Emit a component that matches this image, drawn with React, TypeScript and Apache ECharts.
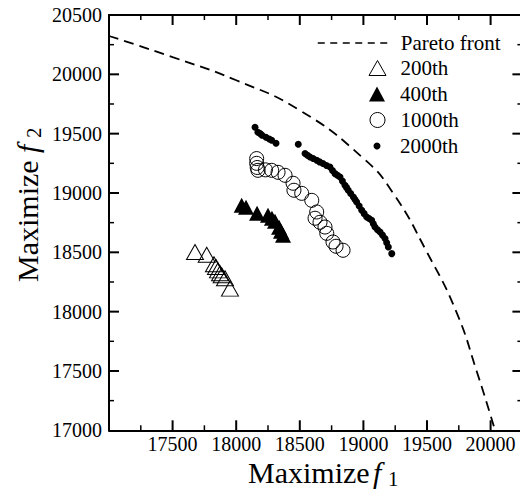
import React, { useEffect, useRef } from "react";
import * as echarts from "echarts";

// ---- data ----
const paretoFront: [number, number][] = [
  [17000, 20323], [17500, 20145], [18000, 19950], [18500, 19697], [19000, 19292],
  [19233, 19000], [19500, 18500], [19730, 18000], [19890, 17500], [20035, 17000],
];

const gen200: [number, number][] = [
  [17676, 18502], [17768, 18479], [17825, 18399], [17841, 18376], [17857, 18348],
  [17873, 18323], [17886, 18306], [17912, 18281], [17951, 18194],
];

const gen400: [number, number][] = [
  [18043, 18896], [18077, 18879], [18164, 18829], [18250, 18812], [18281, 18787],
  [18305, 18761], [18337, 18711], [18352, 18677], [18368, 18643],
];

const gen1000: [number, number][] = [
  [18161, 19290], [18161, 19250], [18165, 19215], [18171, 19191], [18230, 19195],
  [18279, 19191], [18329, 19174], [18384, 19149], [18447, 19082], [18454, 19023],
  [18515, 18997], [18594, 18938], [18633, 18840], [18620, 18787], [18659, 18753],
  [18698, 18713], [18712, 18660], [18761, 18587], [18785, 18551], [18840, 18517],
];

const gen2000: [number, number][] = [
  [18148, 19554], [18171, 19512], [18190, 19500], [18203, 19487], [18234, 19469],
  [18260, 19455], [18279, 19444], [18313, 19419],
  [18488, 19410], [18541, 19332], [18560, 19318], [18580, 19303], [18605, 19290],
  [18633, 19276], [18655, 19262], [18682, 19248], [18710, 19232], [18737, 19219],
  [18757, 19190], [18777, 19163], [18796, 19150], [18816, 19135], [18835, 19100],
  [18855, 19065], [18868, 19045], [18881, 19023], [18900, 18995], [18921, 18966],
  [18934, 18945], [18947, 18924], [18967, 18890], [18987, 18854], [19006, 18826],
  [19026, 18798], [19045, 18785], [19065, 18770], [19078, 18740], [19091, 18713],
  [19111, 18690], [19131, 18671], [19150, 18645], [19170, 18616], [19183, 18580],
  [19196, 18545], [19223, 18489],
];

const seriesNames = ["Pareto front", "200th", "400th", "1000th", "2000th"];
const xRange = [17000, 20250];
const yRange = [17000, 20500];
const majorStep = 500;

// tick positions (data values)
const xMajorTicks = [17500, 18000, 18500, 19000, 19500, 20000];
const xMinorTicks = [17250, 17750, 18250, 18750, 19250, 19750];
const yMajorTicks = [17500, 18000, 18500, 19000, 19500, 20000];
const yMinorTicks = [17250, 17750, 18250, 18750, 19250, 19750, 20250];

const FONT = "Liberation Serif";

export default function App() {
  const ref = useRef<HTMLDivElement>(null);
  useEffect(() => {
    document.body.style.margin = "0";
    const chart = echarts.init(ref.current!, undefined, { renderer: "svg" });

    const axisLine = () => ({ show: true, onZero: false, lineStyle: { color: "#000", width: 2 } });
    const xAxisDef = (position: string, label: any) => ({
      type: "value", min: xRange[0], max: xRange[1], interval: majorStep, position,
      splitLine: { show: false }, axisLine: axisLine(), axisTick: { show: false }, axisLabel: label,
    });
    const yAxisDef = (position: string, label: any) => ({
      type: "value", min: yRange[0], max: yRange[1], interval: majorStep, position,
      splitLine: { show: false }, axisLine: axisLine(), axisTick: { show: false }, axisLabel: label,
    });

    // tick marks: thin rect symbols anchored on the axes through the library's scales
    const tickMarks = (data: [number, number][], size: [number, number], offset: [number, number]) => ({
      type: "scatter", silent: true, clip: false, z: 5, data,
      symbol: "rect", symbolSize: size, symbolOffset: offset,
      itemStyle: { color: "#000", opacity: 1 },
    });
    const M = 10, m = 5, W = 2, w = 1.5;

    const scatterLegend = (name: string, top: number, wd: number, h: number, bw: number) => {
      const left = 377 - wd / 2;
      return {
        data: [name], orient: "vertical", left, top, itemWidth: wd, itemHeight: h,
        padding: 0, itemGap: 0, selectedMode: false,
        itemStyle: { borderWidth: bw, opacity: 1 },
        textStyle: {
          fontSize: 21, fontFamily: FONT, color: "#000", lineHeight: 22,
          padding: [0, 0, 0, 400 - (left + wd + 5)],
        },
      };
    };

    chart.setOption({
      animation: false,
      textStyle: { fontFamily: FONT, color: "#000" },
      grid: { left: 109, top: 15, width: 413.4, height: 415.3, outerBoundsMode: "none" },
      xAxis: [
        xAxisDef("bottom", {
          margin: 4, fontSize: 20, fontFamily: FONT, color: "#000",
          formatter: (v: number) => (v % majorStep === 0 && v > xRange[0] ? String(v) : ""),
        }),
        xAxisDef("top", { show: false }),
      ],
      yAxis: [
        yAxisDef("left", { margin: 7, fontSize: 20, fontFamily: FONT, color: "#000", formatter: (v: number) => String(v) }),
        yAxisDef("right", { show: false }),
      ],
      legend: [
        {
          data: [seriesNames[0]], left: 317, top: 32, itemWidth: 73, itemHeight: 14,
          padding: 0, selectedMode: false,
          itemStyle: { color: "rgba(0,0,0,0)", borderWidth: 0, opacity: 0 },
          lineStyle: { type: [7, 5.5], width: 1.5, color: "#000" },
          textStyle: { fontSize: 21, fontFamily: FONT, color: "#000", lineHeight: 22, padding: [0, 0, 0, 5] },
        },
        scatterLegend(seriesNames[1], 57, 17, 15, 1),
        scatterLegend(seriesNames[2], 83, 16, 15, 0),
        scatterLegend(seriesNames[3], 109, 15, 15, 1),
        scatterLegend(seriesNames[4], 135, 7, 7, 0),
      ],
      series: [
        {
          name: seriesNames[0], type: "line", data: paretoFront, smooth: 0.5,
          symbol: "none", showSymbol: false, clip: true, z: 1,
          itemStyle: { color: "#000" },
          lineStyle: { color: "#000", width: 1.8, type: [10, 6] },
        },
        {
          name: seriesNames[1], type: "scatter", data: gen200, symbol: "triangle", symbolSize: [17, 15],
          itemStyle: { color: "rgba(255,255,255,0)", borderColor: "#000", borderWidth: 1, opacity: 1 },
        },
        {
          name: seriesNames[2], type: "scatter", data: gen400, symbol: "triangle", symbolSize: [16, 15],
          itemStyle: { color: "#000", opacity: 1 },
        },
        {
          name: seriesNames[3], type: "scatter", data: gen1000, symbol: "circle", symbolSize: 14,
          itemStyle: { color: "rgba(255,255,255,0)", borderColor: "#000", borderWidth: 1, opacity: 1 },
        },
        {
          name: seriesNames[4], type: "scatter", data: gen2000, symbol: "circle", symbolSize: 7,
          itemStyle: { color: "#000", opacity: 1 },
        },
        // bottom / top x ticks
        tickMarks(xMajorTicks.map((v) => [v, yRange[0]] as [number, number]), [W, M], [0, -M / 2]),
        tickMarks(xMajorTicks.map((v) => [v, yRange[1]] as [number, number]), [W, M], [0, M / 2]),
        tickMarks(xMinorTicks.map((v) => [v, yRange[0]] as [number, number]), [w, m], [0, -m / 2]),
        tickMarks(xMinorTicks.map((v) => [v, yRange[1]] as [number, number]), [w, m], [0, m / 2]),
        // left / right y ticks
        tickMarks(yMajorTicks.map((v) => [xRange[0], v] as [number, number]), [M, W], [M / 2, 0]),
        tickMarks(yMajorTicks.map((v) => [xRange[1], v] as [number, number]), [M, W], [-M / 2, 0]),
        tickMarks(yMinorTicks.map((v) => [xRange[0], v] as [number, number]), [m, w], [m / 2, 0]),
        tickMarks(yMinorTicks.map((v) => [xRange[1], v] as [number, number]), [m, w], [-m / 2, 0]),
      ],
      graphic: [
        { type: "text", x: 248, y: 472, style: { text: "Maximize", font: `30px "${FONT}"`, fill: "#000", align: "left", verticalAlign: "middle" } },
        { type: "text", x: 373, y: 472, style: { text: "f", font: `italic 30px "${FONT}"`, fill: "#000", align: "left", verticalAlign: "middle" } },
        { type: "text", x: 388, y: 479, style: { text: "1", font: `21px "${FONT}"`, fill: "#000", align: "left", verticalAlign: "middle" } },
        { type: "text", x: 27, y: 282, rotation: Math.PI / 2, style: { text: "Maximize", font: `30px "${FONT}"`, fill: "#000", align: "left", verticalAlign: "middle" } },
        { type: "text", x: 27, y: 153, rotation: Math.PI / 2, style: { text: "f", font: `italic 30px "${FONT}"`, fill: "#000", align: "left", verticalAlign: "middle" } },
        { type: "text", x: 34, y: 138, rotation: Math.PI / 2, style: { text: "2", font: `21px "${FONT}"`, fill: "#000", align: "left", verticalAlign: "middle" } },
      ],
    });
    return () => chart.dispose();
  }, []);
  return <div ref={ref} style={{ width: 520, height: 495 }} />;
}
